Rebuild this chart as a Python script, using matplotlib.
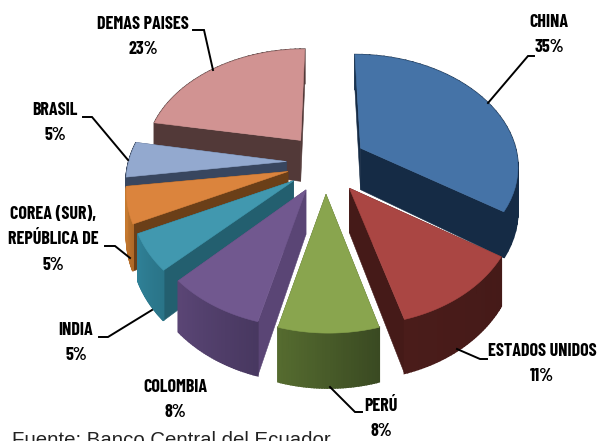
import numpy as np
import matplotlib
matplotlib.use('Agg')
import matplotlib.pyplot as plt
from matplotlib.patches import Polygon

# shares in percent, clockwise from 12 o'clock
paises = ['CHINA', 'ESTADOS UNIDOS', 'PERÚ', 'COLOMBIA', 'INDIA',
          'COREA (SUR),\nREPÚBLICA DE', 'BRASIL', 'DEMAS PAISES']
valores = [35, 11, 8, 8, 5, 5, 5, 23]

# top face, radial wall, outer wall left/right shade
top_col = ['#4573A7', '#AA4643', '#89A54E', '#71588F', '#4198AF', '#DB843D', '#93A9CF', '#D19392']
rad_col = ['#152B45', '#451A18', '#4A5A28', '#5A4575', '#235F6F', '#6B3F18', '#38465F', '#523938']
out_a = ['#152B45', '#4A1C1A', '#556B2F', '#5A4575', '#2F8096', '#C77A30', '#38465F', '#523938']
out_b = ['#1A3350', '#451A18', '#3A4A22', '#483860', '#2A7488', '#B06A28', '#38465F', '#523938']

# painter order, back to front
orden = [7, 0, 6, 5, 4, 3, 1, 2]

cx, cy = 326, 155
R, ry = 157, 109
p = 0.188
e = 0.25
depth = 42
# small sideways shift of each slice's rim, in pixels
nudge = [0, 0, 2, 5, 3, 2, 1, 0]


def proj(X, Y, bottom=False):
    f = 1 / (1 + p * Y)
    sx = cx + X * R * f
    sy = cy - Y * ry * f
    if bottom:
        sy = sy + depth * f
    return sx, sy


def quad(ax, a, b, c, d, col, z, lw=0.4):
    ax.add_patch(Polygon([a, b, c, d], closed=True, fc=col, ec=col, lw=lw, zorder=z))


fig = plt.figure(figsize=(5.97, 4.41), dpi=100)
ax = fig.add_axes([0, 0, 1, 1])
ax.set_xlim(0, 597)
ax.set_ylim(441, 0)
ax.axis('off')

bordes = np.cumsum([0] + valores) / sum(valores) * 2 * np.pi

for z, i in enumerate(orden):
    t0, t1 = bordes[i], bordes[i + 1]
    tm = (t0 + t1) / 2
    ox, oy = e * np.sin(tm), e * np.cos(tm)
    # tips sit a bit lower than the plain explosion gives
    ay = oy * (1.15 if oy < 0 else 1) - 0.05
    rim = ox + nudge[i] / R
    t = np.linspace(t0, t1, 40)
    xs, ys = rim + np.sin(t), oy + np.cos(t)

    # radial walls
    for tt in (t0, t1):
        a = proj(ox, ay)
        b = proj(rim + np.sin(tt), oy + np.cos(tt))
        c = proj(rim + np.sin(tt), oy + np.cos(tt), True)
        d = proj(ox, ay, True)
        quad(ax, a, b, c, d, rad_col[i], z * 10 + 1)

    # outer wall, shaded from one end to the other
    ca = np.array(matplotlib.colors.to_rgb(out_a[i]))
    cb = np.array(matplotlib.colors.to_rgb(out_b[i]))
    for k in range(len(t) - 1):
        col = ca + (cb - ca) * (1 - k / (len(t) - 2))
        quad(ax, proj(xs[k], ys[k]), proj(xs[k + 1], ys[k + 1]),
             proj(xs[k + 1], ys[k + 1], True), proj(xs[k], ys[k], True),
             tuple(col), z * 10 + 2, lw=1.2)

    # top
    pts = [proj(ox, ay)] + [proj(x, y) for x, y in zip(xs, ys)]
    ax.add_patch(Polygon(pts, closed=True, fc=top_col[i], ec=top_col[i], lw=0.4, zorder=z * 10 + 3))

# leader lines
lineas = [
    [(488, 103), (528, 56), (534, 56)],
    [(457, 349), (480, 359), (487, 359)],
    [(330, 387), (355, 412), (362, 412)],
    [(152, 310), (108, 337), (99, 337)],
    [(130, 258), (115, 246), (105, 246)],
    [(128, 160), (92, 117), (83, 117)],
    [(213, 70), (204, 30), (193, 30)],
]
for ln in lineas:
    ax.plot(*zip(*ln), color='black', lw=1.4, zorder=200, solid_joinstyle='miter')

# label centres: name line(s), then percent
pos = [(549, 35), (542, 364), (381, 419), (175, 400), (76, 343), (53, 240), (55, 123), (143, 37)]
fuente = ['Barlow Condensed', 'Liberation Sans']
for n, v, (x, y) in zip(paises, valores, pos):
    ax.text(x, y, '%s\n%d%%' % (n, v), ha='center', va='center', ma='center',
            fontsize=13, fontweight='bold', family=fuente, linespacing=1.68, color='black', zorder=300)

ax.text(12, 446, 'Fuente: Banco Central del Ecuador', ha='left', va='baseline',
        fontsize=14.7, family='Liberation Sans', color='#222222', zorder=300)

fig.savefig('out.png', dpi=100)
